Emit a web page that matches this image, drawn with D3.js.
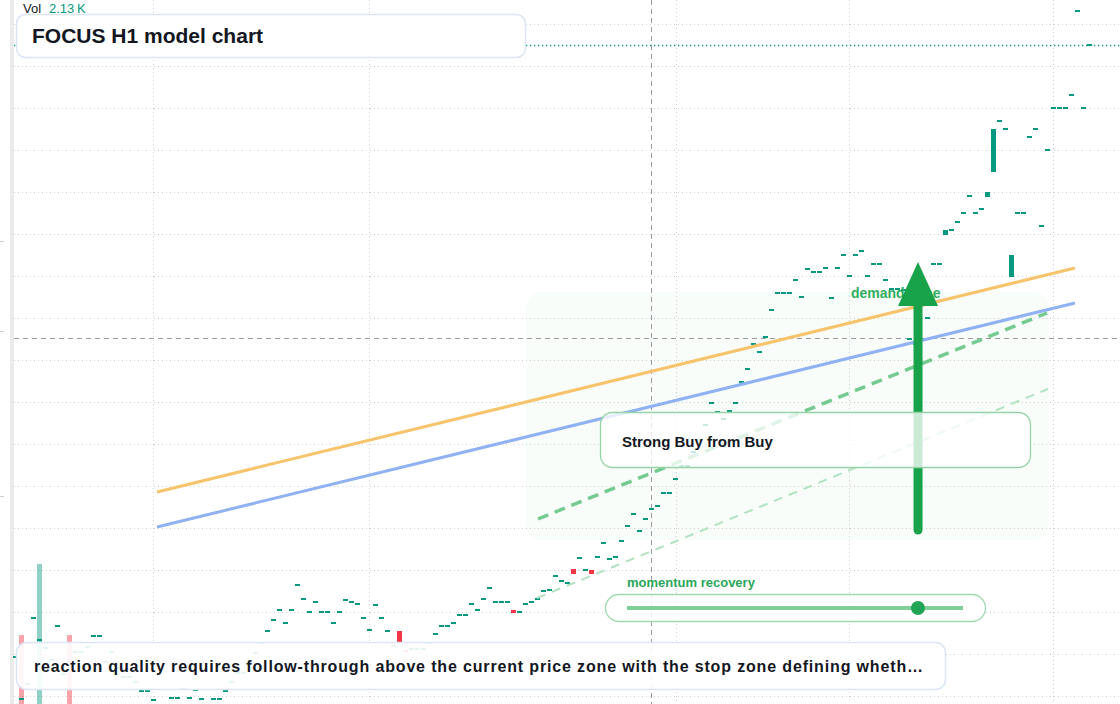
<!DOCTYPE html>
<html>
<head>
<meta charset="utf-8">
<script src="https://cdn.jsdelivr.net/npm/d3@7"></script>
<style>
  html, body { margin: 0; padding: 0; background: #fff; overflow: hidden; }
  svg { display: block; font-family: 'Liberation Sans', Arial, sans-serif; }
</style>
</head>
<body>
<svg id="chart" width="1120" height="704"></svg>
<script>
// H1 candles, one per bar, oldest first
const closes = [
  100.47, 100.05, 100.20, 100.86, 100.64, 100.56, 100.44, 100.78, 100.30, 100.36,
  100.52, 100.52, 100.57, 100.68, 100.68, 100.42, 100.52, 100.36, 100.27, 100.27,
  100.22, 100.13, 100.13, 100.04, 99.98, 99.98, 100.06, 100.06, 100.15, 100.06,
  100.14, 100.05, 99.98, 100.05, 100.05, 100.13, 100.22, 100.31, 100.31, 100.42,
  100.51, 100.61, 100.73, 100.84, 100.94, 100.81, 100.94, 101.19, 101.05, 100.92,
  101.02, 100.92, 100.92, 100.81, 100.92, 101.04, 101.02, 101.00, 100.86, 100.74,
  100.99, 100.86, 100.73, 100.58, 100.62, 100.52, 100.55, 100.55, 100.55, 100.61,
  100.70, 100.78, 100.78, 100.81, 100.89, 100.89, 101.00, 100.94, 101.05, 101.16,
  101.02, 101.02, 101.02, 100.91, 100.92, 101.00, 101.02, 101.05, 101.13, 101.14,
  101.28, 101.23, 101.21, 101.30, 101.46, 101.34, 101.30, 101.47, 101.61, 101.45,
  101.47, 101.63, 101.78, 101.90, 101.73, 101.85, 101.95, 101.98, 102.11, 102.11,
  102.25, 102.38, 102.38, 102.52, 102.64, 102.79, 103.01, 102.92, 102.85, 102.93,
  103.01, 103.22, 103.35, 103.60, 103.52, 103.67, 103.94, 104.11, 104.11, 104.11,
  104.24, 104.07, 104.35, 104.32, 104.32, 104.36, 104.06, 104.36, 104.49, 104.28,
  104.49, 104.53, 104.28, 104.40, 104.40, 104.24, 104.15, 104.15, 104.14, 103.65,
  103.60, 103.65, 103.86, 104.40, 104.40, 104.74, 104.74, 104.82, 104.91, 105.08,
  104.91, 104.95, 105.12, 105.75, 105.83, 105.75, 104.49, 104.91, 104.91, 105.67,
  105.75, 104.78, 105.54, 105.96, 105.96, 105.96, 106.09, 106.93, 105.96, 106.59
]

const opens = [
  100.47, 100.05, 100.20, 100.86, 100.64, 100.56, 100.44, 100.78, 100.30, 100.36,
  100.52, 100.52, 100.57, 100.68, 100.68, 100.42, 100.52, 100.36, 100.27, 100.27,
  100.22, 100.13, 100.13, 100.04, 99.98, 99.98, 100.06, 100.06, 100.15, 100.06,
  100.14, 100.05, 99.98, 100.05, 100.05, 100.13, 100.22, 100.31, 100.31, 100.42,
  100.51, 100.61, 100.73, 100.84, 100.94, 100.81, 100.94, 101.19, 101.05, 100.92,
  101.02, 100.92, 100.92, 100.81, 100.92, 101.04, 101.02, 101.00, 100.86, 100.74,
  100.99, 100.86, 100.73, 100.58, 100.73, 100.54, 100.55, 100.55, 100.55, 100.61,
  100.70, 100.78, 100.78, 100.81, 100.89, 100.89, 101.00, 100.94, 101.05, 101.16,
  101.02, 101.02, 101.02, 100.94, 100.92, 101.00, 101.02, 101.05, 101.13, 101.14,
  101.28, 101.23, 101.21, 101.35, 101.46, 101.34, 101.34, 101.47, 101.61, 101.45,
  101.47, 101.63, 101.78, 101.90, 101.73, 101.85, 101.95, 101.98, 102.11, 102.11,
  102.25, 102.38, 102.38, 102.52, 102.64, 102.79, 103.01, 102.92, 102.85, 102.93,
  103.01, 103.22, 103.35, 103.60, 103.52, 103.67, 103.94, 104.11, 104.11, 104.11,
  104.24, 104.07, 104.35, 104.32, 104.32, 104.36, 104.06, 104.36, 104.49, 104.28,
  104.49, 104.53, 104.28, 104.40, 104.40, 104.24, 104.15, 104.15, 104.14, 103.65,
  103.60, 103.65, 103.86, 104.40, 104.40, 104.69, 104.74, 104.82, 104.91, 105.08,
  104.91, 104.95, 105.07, 105.32, 105.83, 105.75, 104.27, 104.91, 104.91, 105.67,
  105.75, 104.78, 105.54, 105.96, 105.96, 105.96, 106.09, 106.93, 105.96, 106.59
]

// volume in K; the pane sits low so most bars fall below the view
const volumes = [
  0.52, 1.46, 0.38, 0.61, 2.13, 0.44, 0.57, 0.36, 0.49, 1.46,
  0.41, 0.33, 0.58, 0.47, 0.39, 0.62, 0.35, 0.44, 0.51, 0.29,
  0.46, 0.37, 0.55, 0.42, 0.31, 0.48, 0.59, 0.34, 0.43, 0.52,
  0.38, 0.45, 0.61, 0.33, 0.47, 0.56, 0.39, 0.42, 0.53, 0.36,
  0.44, 0.58, 0.35, 0.49, 0.41, 0.62, 0.37, 0.54, 0.45, 0.32,
  0.48, 0.39, 0.57, 0.43, 0.36, 0.51, 0.46, 0.34, 0.59, 0.42,
  0.38, 0.55, 0.47, 0.33, 0.64, 0.41, 0.36, 0.52, 0.44, 0.39,
  0.57, 0.35, 0.48, 0.42, 0.61, 0.37, 0.45, 0.53, 0.34, 0.49,
  0.43, 0.58, 0.36, 0.62, 0.41, 0.47, 0.38, 0.55, 0.44, 0.51,
  0.35, 0.46, 0.59, 0.66, 0.42, 0.37, 0.63, 0.48, 0.53, 0.39,
  0.45, 0.57, 0.34, 0.49, 0.43, 0.61, 0.38, 0.52, 0.46, 0.36,
  0.55, 0.41, 0.47, 0.58, 0.33, 0.44, 0.62, 0.39, 0.51, 0.45,
  0.37, 0.56, 0.48, 0.63, 0.42, 0.35, 0.59, 0.46, 0.52, 0.38,
  0.44, 0.57, 0.41, 0.49, 0.36, 0.54, 0.47, 0.61, 0.39, 0.45,
  0.58, 0.42, 0.35, 0.52, 0.47, 0.63, 0.38, 0.44, 0.56, 0.41,
  0.49, 0.37, 0.53, 0.46, 0.6, 0.72, 0.43, 0.51, 0.39, 0.57,
  0.45, 0.48, 0.68, 0.78, 0.42, 0.55, 0.74, 0.47, 0.38, 0.59,
  0.44, 0.52, 0.61, 0.46, 0.39, 0.57, 0.5, 0.64, 0.43, 0.55
]
const volumeDown = [1, 9]

// horizontal grid prices and session boundaries (bar index)
const gridPrices = [106.80, 106.38, 105.96, 105.54, 105.12, 104.70, 104.28, 103.86, 103.44,
  103.02, 102.60, 102.18, 101.76, 101.34, 100.92, 100.50, 100.08]
const sessionTicks = [22.92, 58.92, 110.08, 138.92, 172.92]
const axisMarks = [104.63, 103.73, 102.08]

// drawings: [barIndex, price] endpoints
const resistanceLine = [[23.58, 102.12], [176.58, 104.36]]
const supportLine = [[23.58, 101.77], [176.58, 104.01]]
const channelUpper = [[87.08, 101.85], [171.92, 103.91]]
const channelLower = [[86.92, 101.06], [172.08, 103.15]]
const demandZone = { from: 85.08, to: 172.25, top: 104.12, bottom: 101.64 }
const signalArrow = { at: 150.42, base: 101.74, tip: 104.42, headBase: 103.98 }
const crosshair = { bar: 105.92, price: 103.66 }
const momentum = 0.866

const width = 1120
const height = 704
const teal = '#089981'
const red = '#f23645'

const svg = d3.select('#chart')

const x = d3.scaleLinear().domain([0, closes.length - 1]).range([15.5, 1089.5])
const y = d3.scaleLinear().domain([100, 107.04]).range([height, 0])
const vol = d3.scaleLinear().domain([0, 2.13]).range([790, 564])

// left price strip
svg.append('rect').attr('x', 10).attr('y', 0).attr('width', 4).attr('height', height).attr('fill', '#ebebeb')
svg.append('g').selectAll('line')
  .data(axisMarks)
  .enter()
  .append('line')
  .attr('x1', 0).attr('x2', 4)
  .attr('y1', d => Math.round(y(d)) + 0.5)
  .attr('y2', d => Math.round(y(d)) + 0.5)
  .attr('stroke', '#cfcfcf')

// grid
const grid = svg.append('g')
grid.selectAll('.hgrid')
  .data(gridPrices)
  .enter()
  .append('line')
  .attr('x1', 14).attr('x2', width)
  .attr('y1', d => Math.round(y(d)) + 0.5)
  .attr('y2', d => Math.round(y(d)) + 0.5)
  .attr('stroke', '#cfd1d4')
  .attr('stroke-dasharray', '1,3')
grid.selectAll('.vgrid')
  .data(sessionTicks)
  .enter()
  .append('line')
  .attr('y1', 0).attr('y2', height)
  .attr('x1', d => Math.round(x(d)) + 0.5)
  .attr('x2', d => Math.round(x(d)) + 0.5)
  .attr('stroke', '#cfd1d4')
  .attr('stroke-dasharray', '1,3')

// demand zone
svg.append('rect')
  .attr('x', x(demandZone.from))
  .attr('y', y(demandZone.top))
  .attr('width', x(demandZone.to) - x(demandZone.from))
  .attr('height', y(demandZone.bottom) - y(demandZone.top))
  .attr('rx', 16)
  .attr('fill', 'rgba(34, 190, 80, 0.03)')

// crosshair
svg.append('line')
  .attr('x1', Math.round(x(crosshair.bar)) + 0.5).attr('x2', Math.round(x(crosshair.bar)) + 0.5)
  .attr('y1', 0).attr('y2', height)
  .attr('stroke', '#9a9ca3').attr('stroke-dasharray', '5,4')
svg.append('line')
  .attr('x1', 14).attr('x2', width)
  .attr('y1', Math.round(y(crosshair.price)) + 0.5).attr('y2', Math.round(y(crosshair.price)) + 0.5)
  .attr('stroke', '#9a9ca3').attr('stroke-dasharray', '5,4')

// last price line
const last = closes[closes.length - 1]
svg.append('line')
  .attr('x1', 14).attr('x2', width)
  .attr('y1', Math.round(y(last)) + 0.5).attr('y2', Math.round(y(last)) + 0.5)
  .attr('stroke', teal).attr('stroke-width', 1.3).attr('stroke-dasharray', '1.3,2.7')

// volume
svg.append('g').selectAll('rect')
  .data(volumes)
  .enter()
  .append('rect')
  .attr('x', (d, i) => x(i) - 2.5)
  .attr('width', 5)
  .attr('y', d => vol(d))
  .attr('height', d => vol(0) - vol(d))
  .attr('fill', (d, i) => (volumeDown.includes(i) || opens[i] > closes[i]) ? red : teal)
  .attr('opacity', 0.45)

// candles
svg.append('g').selectAll('rect')
  .data(closes)
  .enter()
  .append('rect')
  .attr('x', (d, i) => x(i) - 2.5)
  .attr('width', 5)
  .attr('y', (d, i) => {
    const top = y(Math.max(d, opens[i]))
    const bottom = y(Math.min(d, opens[i]))
    return bottom - top < 2 ? (top + bottom) / 2 - 1 : top
  })
  .attr('height', (d, i) => Math.max(2, y(Math.min(d, opens[i])) - y(Math.max(d, opens[i]))))
  .attr('fill', (d, i) => d >= opens[i] ? teal : red)

// trend lines
const line = d3.line().x(d => x(d[0])).y(d => y(d[1]))
svg.append('path').attr('d', line(resistanceLine))
  .attr('stroke', '#f7c46c').attr('stroke-width', 3).attr('fill', 'none')
svg.append('path').attr('d', line(supportLine))
  .attr('stroke', '#90b1f3').attr('stroke-width', 3).attr('fill', 'none')
svg.append('path').attr('d', line(channelLower))
  .attr('stroke', '#b3e2c2').attr('stroke-width', 2).attr('stroke-dasharray', '9,7').attr('fill', 'none')
svg.append('path').attr('d', line(channelUpper))
  .attr('stroke', '#74ca90').attr('stroke-width', 3.5).attr('stroke-dasharray', '11,7').attr('fill', 'none')

// demand zone label
svg.append('text')
  .attr('x', 851).attr('y', y(demandZone.top) + 6)
  .attr('font-size', 14).attr('font-weight', 700)
  .attr('fill', '#2fae5e')
  .text('demand zone')

// signal arrow
const ax = x(signalArrow.at)
svg.append('line')
  .attr('x1', ax).attr('x2', ax)
  .attr('y1', y(signalArrow.base)).attr('y2', y(signalArrow.headBase))
  .attr('stroke', '#18a34b').attr('stroke-width', 9).attr('stroke-linecap', 'round')
svg.append('path')
  .attr('d', `M${ax - 20},${y(signalArrow.headBase)} L${ax},${y(signalArrow.tip)} L${ax + 20},${y(signalArrow.headBase)} Z`)
  .attr('fill', '#18a34b')

// signal box
svg.append('rect')
  .attr('x', 600.5).attr('y', 412.5).attr('width', 430).attr('height', 55).attr('rx', 12)
  .attr('fill', '#fff').attr('fill-opacity', 0.78)
  .attr('stroke', '#96d4a8').attr('stroke-width', 1.3)
svg.append('text')
  .attr('x', 622).attr('y', 447)
  .attr('font-size', 15).attr('font-weight', 700).attr('fill', '#131722')
  .text('Strong Buy from Buy')

// momentum slider
svg.append('text')
  .attr('x', 627).attr('y', 587)
  .attr('font-size', 13).attr('font-weight', 700).attr('fill', '#2aa85a')
  .text('momentum recovery')
svg.append('rect')
  .attr('x', 605.5).attr('y', 594.5).attr('width', 380).attr('height', 27).attr('rx', 13.5)
  .attr('fill', '#fff').attr('fill-opacity', 0.82)
  .attr('stroke', '#9fd9b0').attr('stroke-width', 1.3)
const slider = d3.scaleLinear().domain([0, 1]).range([627, 963])
svg.append('line')
  .attr('x1', slider(0)).attr('x2', slider(1)).attr('y1', 608).attr('y2', 608)
  .attr('stroke', '#7fcf98').attr('stroke-width', 4)
svg.append('circle')
  .attr('cx', slider(momentum)).attr('cy', 608).attr('r', 7)
  .attr('fill', '#22a455')

// title box
svg.append('rect')
  .attr('x', 16.5).attr('y', 14.5).attr('width', 509).attr('height', 43).attr('rx', 9)
  .attr('fill', '#fff').attr('fill-opacity', 0.97)
  .attr('stroke', '#dbe5f6').attr('stroke-width', 1.5)
svg.append('text')
  .attr('x', 32).attr('y', 43)
  .attr('font-size', 21).attr('font-weight', 700).attr('fill', '#131722')
  .text('FOCUS H1 model chart')

// volume legend
svg.append('text')
  .attr('x', 23).attr('y', 13)
  .attr('font-size', 13).attr('fill', '#131722')
  .text('Vol')
svg.append('text')
  .attr('x', 49).attr('y', 13)
  .attr('font-size', 13).attr('fill', teal)
  .text('2.13\u2009K')

// note box
svg.append('rect')
  .attr('x', 16.5).attr('y', 642.5).attr('width', 929).attr('height', 47).attr('rx', 10)
  .attr('fill', '#fff').attr('fill-opacity', 0.9)
  .attr('stroke', '#dbe5f6').attr('stroke-width', 1.5)
svg.append('text')
  .attr('x', 34).attr('y', 672)
  .attr('font-size', 16).attr('font-weight', 700).attr('fill', '#131722')
  .attr('textLength', 889).attr('lengthAdjust', 'spacing')
  .text('reaction quality requires follow-through above the current price zone with the stop zone defining wheth\u2026')
</script>
</body>
</html>
